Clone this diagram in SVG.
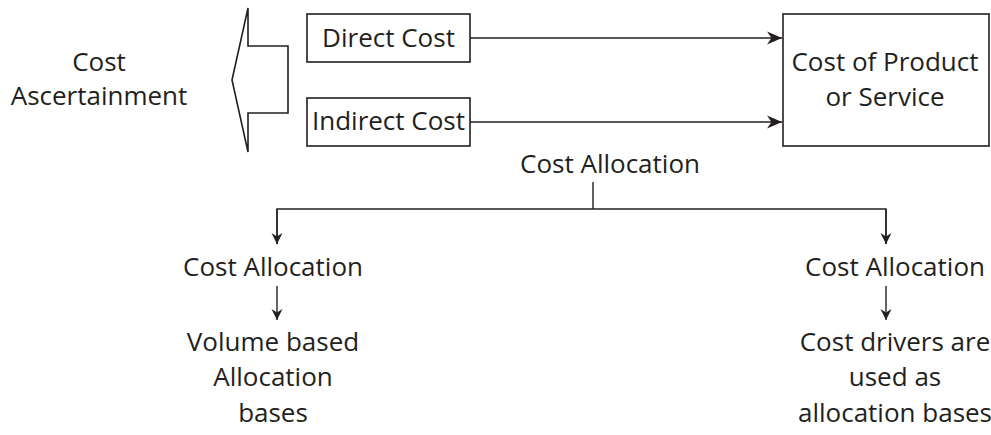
<svg xmlns="http://www.w3.org/2000/svg" width="991" height="435" viewBox="0 0 991 435">
  <style>
    .lbl { font-family: "Open Sans", "Liberation Sans", sans-serif; font-size: 26px; fill: #231f20; text-anchor: middle; }
    .box { fill: #ffffff; stroke: #231f20; stroke-width: 1.6; }
    .wire { fill: none; stroke: #231f20; stroke-width: 1.4; }
  </style>
  <defs>
    <marker id="headH" markerUnits="userSpaceOnUse" viewBox="-16 -8 17 16" markerWidth="17" markerHeight="16" refX="0" refY="0" orient="auto">
      <path d="M0,0 L-15,-6.5 L-10.5,0 L-15,6.5 Z" fill="#231f20"/>
    </marker>
    <marker id="headV" markerUnits="userSpaceOnUse" viewBox="-12 -7 13 14" markerWidth="13" markerHeight="14" refX="0" refY="0" orient="auto">
      <path d="M0,0 L-11,-5.5 L-7.5,0 L-11,5.5 Z" fill="#231f20"/>
    </marker>
  </defs>

  <rect width="991" height="435" fill="#ffffff"/>

  <!-- connectors -->
  <g id="connectors">
    <line class="wire" x1="470" y1="38" x2="782" y2="38" marker-end="url(#headH)"/>
    <line class="wire" x1="470" y1="122" x2="782" y2="122" marker-end="url(#headH)"/>
    <line class="wire" x1="593" y1="182" x2="593" y2="209"/>
    <polyline class="wire" points="277,244 277,209 886,209 886,244"/>
    <line class="wire" x1="277" y1="209" x2="277" y2="244" marker-end="url(#headV)"/>
    <line class="wire" x1="886" y1="209" x2="886" y2="244" marker-end="url(#headV)"/>
    <line class="wire" x1="277" y1="286" x2="277" y2="320" marker-end="url(#headV)"/>
    <line class="wire" x1="886" y1="286" x2="886" y2="320" marker-end="url(#headV)"/>
  </g>

  <!-- block arrow gathering both cost types -->
  <g id="ascertainment-arrow">
    <polygon class="box" points="232,80 248,8 248,46 288,46 288,113 248,113 248,152"/>
  </g>

  <g id="cost-ascertainment">
    <text class="lbl" x="99" y="71">Cost</text>
    <text class="lbl" x="99" y="105">Ascertainment</text>
  </g>

  <g id="direct-cost">
    <rect class="box" x="307" y="14" width="163" height="48"/>
    <text class="lbl" x="388.5" y="47">Direct Cost</text>
  </g>

  <g id="indirect-cost">
    <rect class="box" x="307" y="98" width="163" height="48"/>
    <text class="lbl" x="388.5" y="130">Indirect Cost</text>
  </g>

  <g id="product-cost">
    <rect class="box" x="783" y="14" width="206" height="132"/>
    <text class="lbl" x="885" y="71">Cost of Product</text>
    <text class="lbl" x="885" y="106">or Service</text>
  </g>

  <g id="cost-allocation">
    <text class="lbl" x="610" y="173">Cost Allocation</text>
  </g>

  <g id="allocation-volume">
    <text class="lbl" x="273" y="276">Cost Allocation</text>
  </g>

  <g id="volume-bases">
    <text class="lbl" x="273" y="351">Volume based</text>
    <text class="lbl" x="273" y="386">Allocation</text>
    <text class="lbl" x="273" y="422">bases</text>
  </g>

  <g id="allocation-drivers">
    <text class="lbl" x="895" y="276">Cost Allocation</text>
  </g>

  <g id="driver-bases">
    <text class="lbl" x="895" y="351">Cost drivers are</text>
    <text class="lbl" x="895" y="386">used as</text>
    <text class="lbl" x="895" y="422">allocation bases</text>
  </g>
</svg>
